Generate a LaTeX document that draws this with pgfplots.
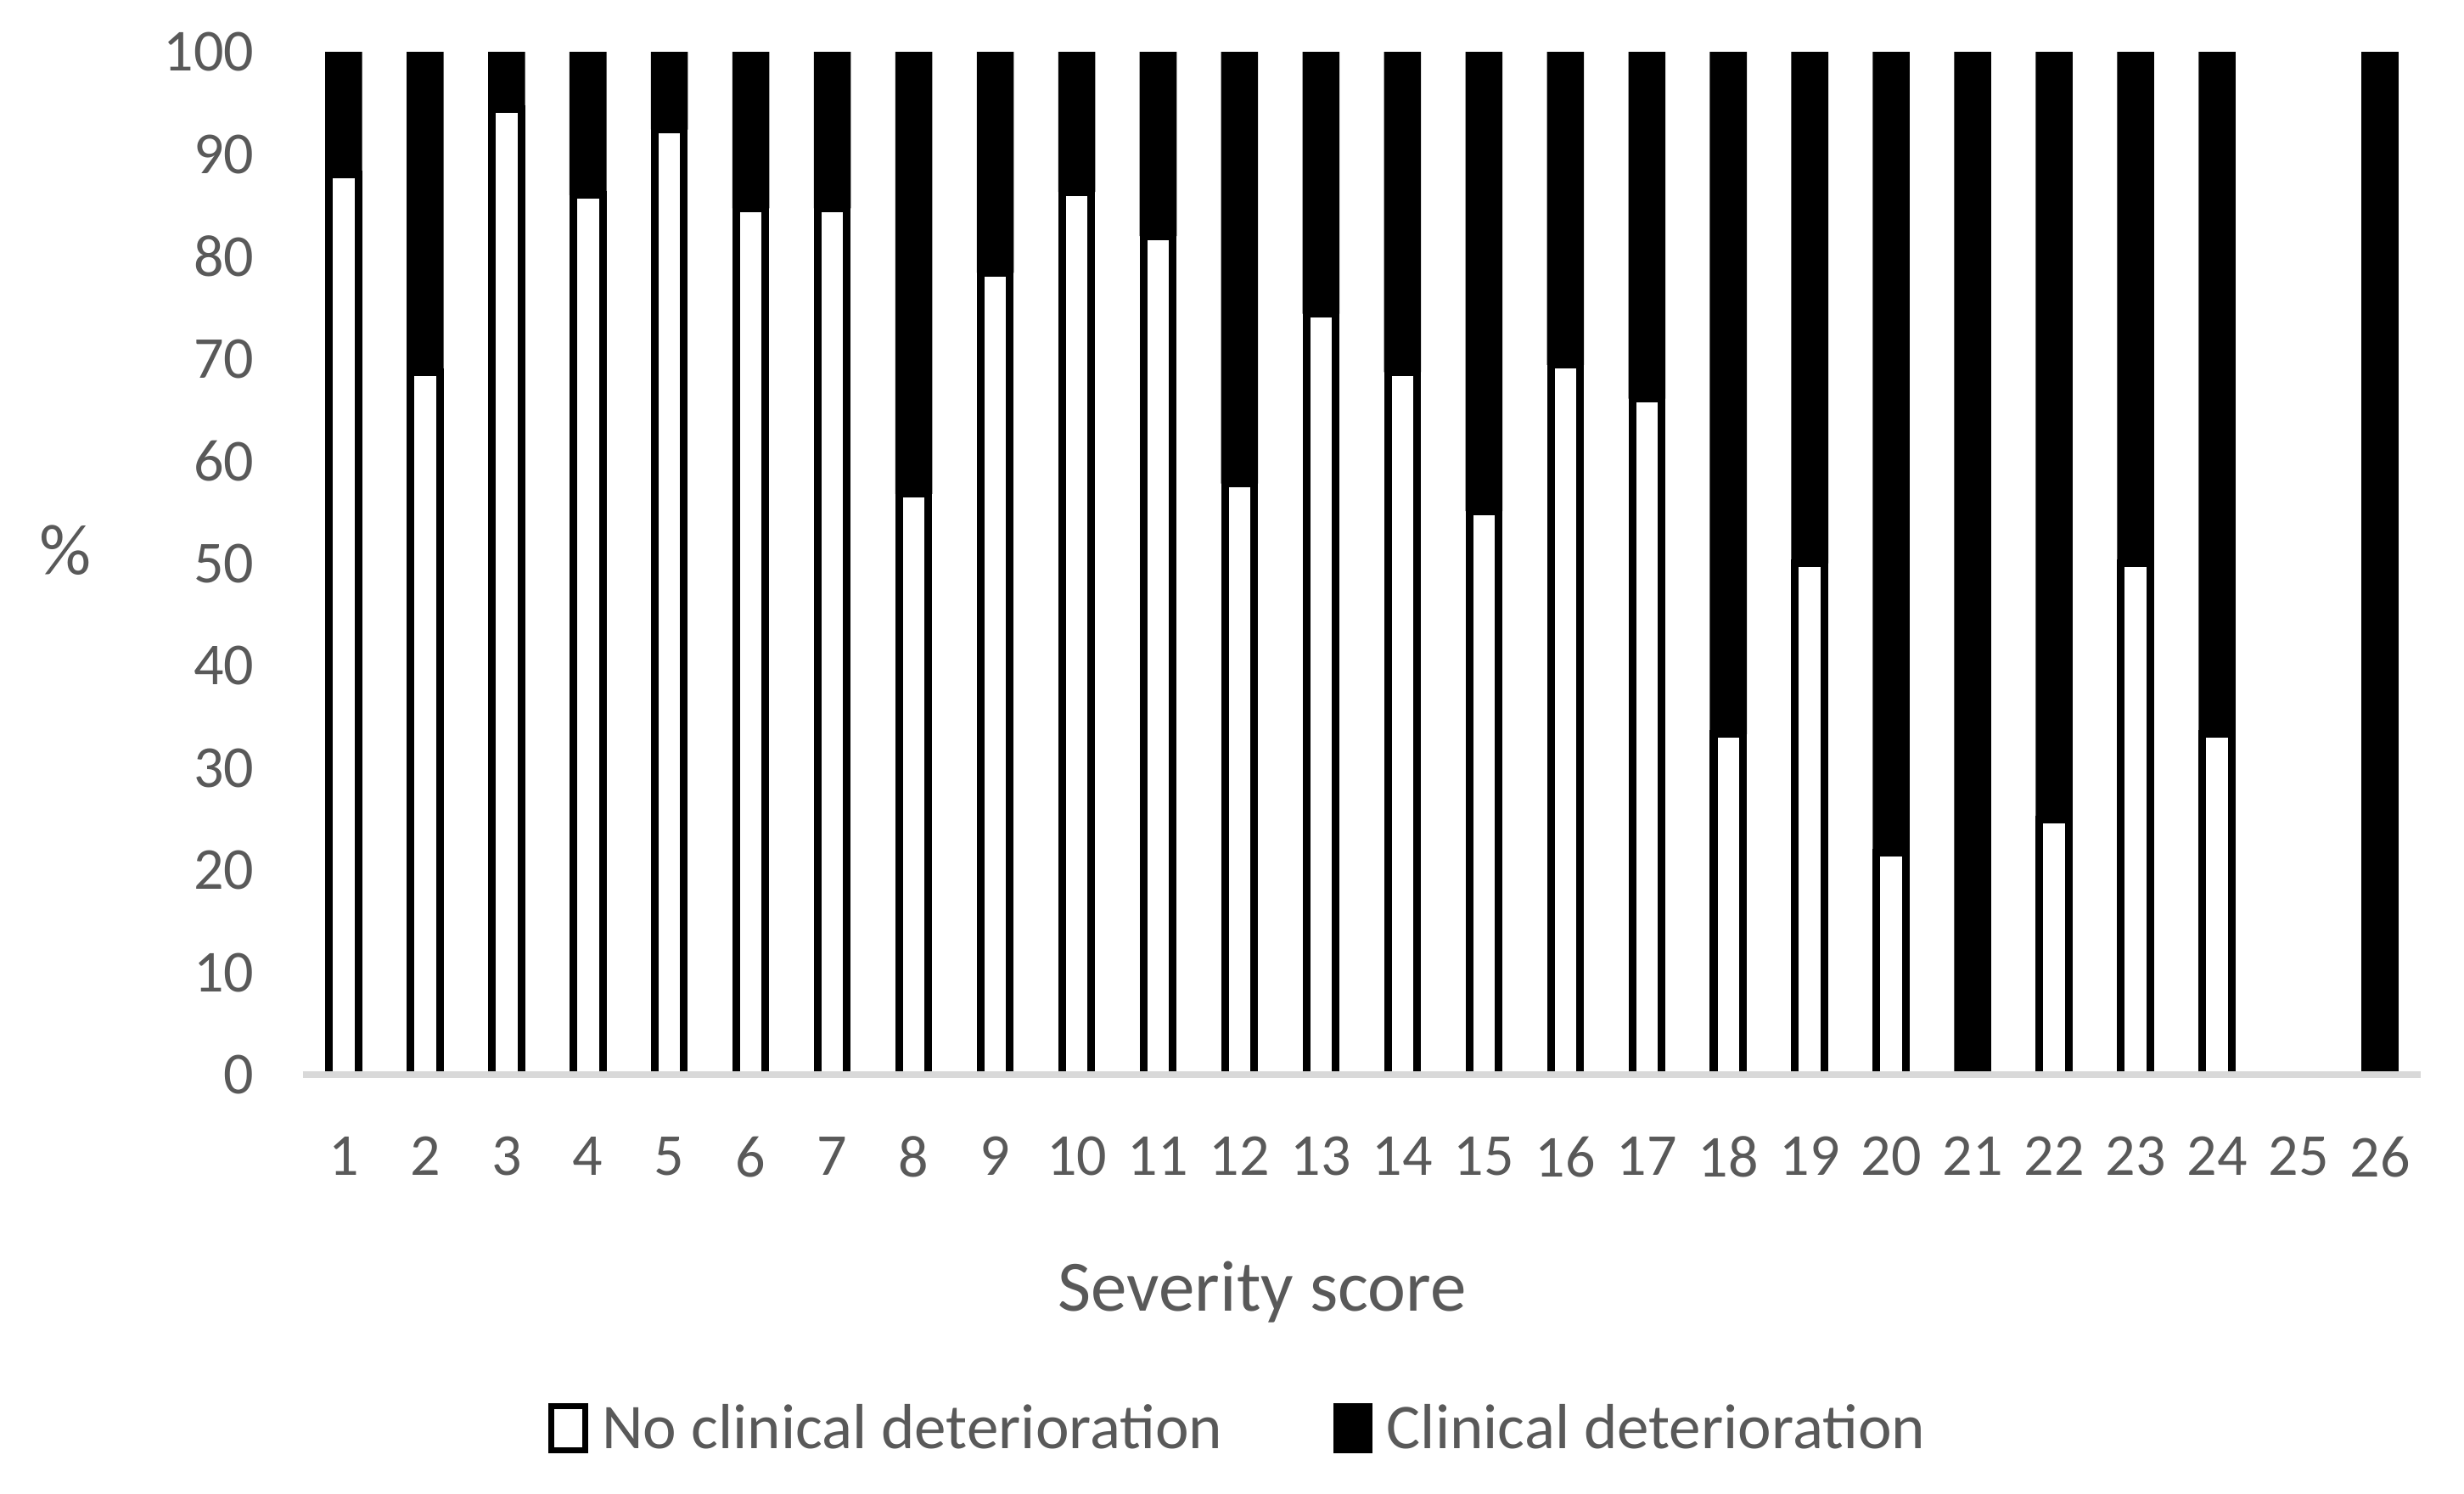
\documentclass[border=0pt]{standalone}
\usepackage{fontspec}
\setmainfont{Carlito}
\usepackage{pgfplots}
\pgfplotsset{compat=1.18}
\definecolor{txtgray}{HTML}{595959}
\definecolor{axgray}{HTML}{D9D9D9}

% severity score, % no deterioration, % deterioration
\pgfplotstableread{
x  no    yes
1  88.0  12.0
2  68.7  31.3
3  94.4  5.6
4  86.0  14.0
5  92.4  7.6
6  84.7  15.3
7  84.7  15.3
8  56.8  43.2
9  78.4  21.6
10 86.3  13.7
11 82.0  18.0
12 57.8  42.2
13 74.4  25.6
14 68.7  31.3
15 55.1  44.9
16 69.4  30.6
17 66.1  33.9
18 33.3  66.7
19 50.0  50.0
20 21.7  78.3
21 0     100
22 25.0  75.0
23 50.0  50.0
24 33.3  66.7
25 0     0
26 0     100
}\sevdata

\begin{document}
\begin{tikzpicture}
\begin{axis}[
    scale only axis,
    width=498.5pt, height=240.8pt,
    ybar stacked,
    xmin=0.5, xmax=26.5,
    ymin=0, ymax=100,
    xtick={1,...,26},
    ytick={0,10,...,100},
    major tick length=0pt,
    axis lines*=left,
    y axis line style={draw=none},
    x axis line style={axgray, line width=1.6pt},
    axis on top,
    tick label style={font=\fontsize{14}{16}\selectfont, text=txtgray},
    /pgf/number format/assume math mode=true,
    yticklabel style={xshift=-8pt},
    xticklabel style={yshift=-11pt},
    ylabel={\%},
    ylabel style={at={(axis description cs:-0.112,0.513)}, anchor=center,
        rotate=90, font=\fontsize{17}{19}\selectfont, text=txtgray},
    xlabel={Severity score},
    xlabel style={at={(axis description cs:0.453,-0.212)}, anchor=center,
        font=\fontsize{17}{19}\selectfont, text=txtgray},
    legend columns=2,
    legend style={at={(axis description cs:0.443,-0.347)}, anchor=center,
        draw=none, font=\fontsize{15}{18}\selectfont, text=txtgray,
        /tikz/every even column/.append style={column sep=24pt}},
    legend image code/.code={
        \draw[#1, line width=1.3pt] (0pt,-4.8pt) rectangle (8pt,5.6pt);
        \path[draw=none, fill=none] (0pt,0pt) -- (10pt,0pt);
    },
]
\addplot[fill=white, draw=black, line width=1.8pt, bar width=6.9pt]
    table[x=x, y=no] {\sevdata};
\addplot[fill=black, draw=none, bar width=8.7pt]
    table[x=x, y=yes] {\sevdata};
\legend{No clinical deterioration, Clinical deterioration}
\end{axis}
\pgfresetboundingbox
\path (current axis.south west) ++(-71.3pt,-98.6pt) rectangle ++(580pt,351.6pt);
\end{tikzpicture}
\end{document}
